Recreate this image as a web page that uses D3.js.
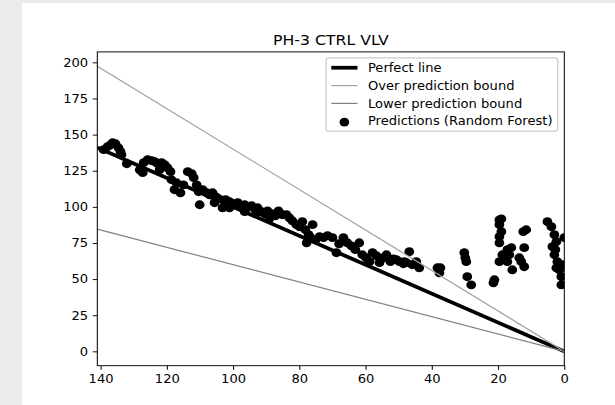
<!DOCTYPE html>
<html><head><meta charset="utf-8">
<script src="https://cdn.jsdelivr.net/npm/d3@7"></script>
<style>html,body{margin:0;padding:0;background:#ebebeb;overflow:hidden}</style>
</head>
<body><svg id="c" width="615" height="405"></svg>
<script>
const chartTitle = "PH-3 CTRL VLV";
const xTicks = [140, 120, 100, 80, 60, 40, 20, 0];
const yTicks = [0, 25, 50, 75, 100, 125, 150, 175, 200];
const legendLabels = ["Perfect line", "Over prediction bound", "Lower prediction bound", "Predictions (Random Forest)"];
const perfectLine = [[141, 141], [0, 0]];
const overBound = [[141, 197.4], [0, 0]];
const lowerBound = [[141, 84.6], [0, 0]];
const actualRUL = [
  139.1,137.9,137.0,136.4,135.5,134.6,134.0,133.7,132.1,
  128.2,127.3,127.0,125.8,124.6,123.7,122.8,121.6,120.7,119.8,118.9,122.2,
  118.6,117.1,117.7,115.9,115.0,113.7,112.5,111.9,111.0,110.4,110.1,109.2,
  108.0,107.1,106.2,105.3,104.4,103.2,102.3,101.1,99.9,98.6,97.7,96.5,95.6,94.4,93.5,92.6,91.4,
  105.6,101.1,96.5,93.0,89.0,
  90.5,89.6,88.4,87.2,86.3,85.1,83.9,83.0,82.1,80.9,80.0,79.1,78.2,77.2,76.0,77.8,76.6,
  75.1,73.9,72.7,71.5,70.0,68.8,68.0,66.7,65.5,64.3,63.1,61.9,61.0,59.8,58.8,57.9,56.7,55.8,54.6,53.7,52.5,51.6,50.7,49.8,48.6,47.7,
  46.8,48.3,45.9,44.7,43.8,38.3,37.4,37.7,
  30.2,29.6,29.3,28.1,29.9,
  21.1,21.4,19.6,19.0,19.6,19.0,19.6,19.6,17.2,16.6,18.7,19.6,17.2,15.7,18.0,16.0,
  11.5,12.4,12.1,13.0,12.1,13.6,
  5.1,3.9,3.0,2.4,3.6,3.0,2.1,2.4,0.9,0.9,0.6,0.0,2.7,1.5
];
const predictedRUL = [
  139.6,141.7,143.0,144.4,143.7,140.9,138.2,136.1,129.9,
  125.7,123.7,130.6,132.7,132.0,131.3,129.9,130.6,129.2,127.1,124.4,125.7,
  118.8,116.7,111.9,109.8,115.3,124.4,123.0,120.2,115.3,110.5,101.5,111.9,
  109.8,108.4,109.8,107.1,105.7,99.4,105.0,103.6,102.2,102.9,100.8,101.5,100.1,100.8,98.7,99.4,96.7,
  102.9,99.4,96.7,95.5,92.0,
  95.3,97.3,95.3,93.9,97.3,94.6,94.6,92.5,90.4,87.7,86.3,89.8,84.2,80.8,87.7,75.2,78.7,
  77.3,79.4,78.7,80.1,78.7,68.3,74.5,78.7,75.2,73.1,70.4,75.2,66.9,64.8,62.1,68.3,66.2,61.4,64.8,66.9,62.1,64.1,63.5,62.1,60.7,61.4,
  69.0,62.1,60.0,62.1,57.9,57.9,57.9,54.4,
  68.3,62.1,51.7,46.1,64.8,
  49.6,47.5,91.0,91.7,87.7,82.9,79.4,75.2,70.4,66.9,66.9,62.1,62.1,56.5,63.5,71.8,
  84.2,82.9,71.8,62.1,58.6,64.8,
  89.8,86.3,80.8,75.9,72.5,66.9,62.1,57.9,51.7,46.1,60.0,78.7,70.4,56.5
];

const svg = d3.select("#c");
svg.append("rect").attr("x", 22).attr("y", 3).attr("width", 620).attr("height", 410).attr("fill", "#ffffff");

// matplotlib-like figure space (640x480), stretched to the reference
const g = svg.append("g").attr("transform", "translate(22,3) scale(0.9415,0.849)");
const L = 80, R = 576, T = 57.6, B = 427.2;
const FS = 13.9;
const FONT = "DejaVu Sans";
const DOT_R = 5.2;

const x = d3.scaleLinear().domain([141, 0]).range([L, R]);
const y = d3.scaleLinear().domain([-9.87, 207.27]).range([B, T]);

g.append("clipPath").attr("id", "clip")
  .append("rect").attr("x", L).attr("y", T).attr("width", R - L).attr("height", B - T);

const plot = g.append("g").attr("clip-path", "url(#clip)");

const pts = actualRUL.map((a, i) => [a, predictedRUL[i]]);
plot.selectAll("circle.p").data(pts).enter().append("circle")
  .attr("class", "p")
  .attr("cx", d => x(d[0])).attr("cy", d => y(d[1])).attr("r", DOT_R)
  .attr("fill", "#000");

const line = d3.line().x(d => x(d[0])).y(d => y(d[1]));
plot.append("path").attr("d", line(perfectLine)).attr("stroke", "#000").attr("stroke-width", 4.4).attr("fill", "none");
plot.append("path").attr("d", line(overBound)).attr("stroke", "#a0a0a0").attr("stroke-width", 1.39).attr("fill", "none");
plot.append("path").attr("d", line(lowerBound)).attr("stroke", "#808080").attr("stroke-width", 1.39).attr("fill", "none");

// axes
const xAxis = d3.axisBottom(x).tickValues(xTicks).tickFormat(d3.format("d")).tickSizeOuter(0).tickSize(4.86).tickPadding(4.86);
const yAxis = d3.axisLeft(y).tickValues(yTicks).tickFormat(d3.format("d")).tickSizeOuter(0).tickSize(4.86).tickPadding(4.86);
const gx = g.append("g").attr("transform", `translate(0,${B})`).call(xAxis);
const gy = g.append("g").attr("transform", `translate(${L},0)`).call(yAxis);
[gx, gy].forEach(a => {
  a.select(".domain").remove();
  a.selectAll(".tick line").attr("stroke", "#000").attr("stroke-width", 1.1);
  a.selectAll(".tick text").attr("font-family", FONT).attr("font-size", FS).attr("fill", "#000");
});
gx.selectAll(".tick text").attr("dy", null).attr("y", 4.86 + 4.86 + 11.2);
g.append("rect").attr("x", L).attr("y", T).attr("width", R - L).attr("height", B - T)
  .attr("fill", "none").attr("stroke", "#000").attr("stroke-width", 1.1);

// title
g.append("text").attr("x", (L + R) / 2).attr("y", T - 8.33).attr("text-anchor", "middle")
  .attr("font-family", FONT).attr("font-size", 16.7).attr("fill", "#000").text(chartTitle);

// legend
const lg = g.append("g");
const texts = legendLabels.map(t => lg.append("text").attr("font-family", FONT).attr("font-size", FS).attr("fill", "#000").text(t));
const maxW = d3.max(texts, t => t.node().getComputedTextLength());
const pad = 0.4 * FS, hl = 2.0 * FS, htp = 0.8 * FS;
const lw = pad * 2 + hl + htp + maxW;
const lRight = R - 0.5 * FS, lTop = T + 0.5 * FS;
const lLeft = lRight - lw;
const rowH = 21, first = 11.7;
const lh = first * 2 + rowH * 3;
lg.insert("rect", "text").attr("x", lLeft).attr("y", lTop).attr("width", lw).attr("height", lh)
  .attr("rx", 0.2 * FS).attr("fill", "#fff").attr("fill-opacity", 0.8)
  .attr("stroke", "#cccccc").attr("stroke-width", 1.39);
const hx0 = lLeft + pad, hx1 = hx0 + hl;
texts.forEach((t, i) => {
  const cy = lTop + first + i * rowH;
  t.attr("x", hx1 + htp).attr("y", cy + FS * 0.36);
});
const handleStyles = [["#000", 4.4], ["#a0a0a0", 1.39], ["#808080", 1.39]];
handleStyles.forEach((s, i) => {
  const cy = lTop + first + i * rowH;
  lg.append("line").attr("x1", hx0).attr("x2", hx1).attr("y1", cy).attr("y2", cy)
    .attr("stroke", s[0]).attr("stroke-width", s[1]);
});
lg.append("circle").attr("cx", (hx0 + hx1) / 2).attr("cy", lTop + first + 3 * rowH + 1).attr("r", DOT_R).attr("fill", "#000");
</script>
</body></html>
